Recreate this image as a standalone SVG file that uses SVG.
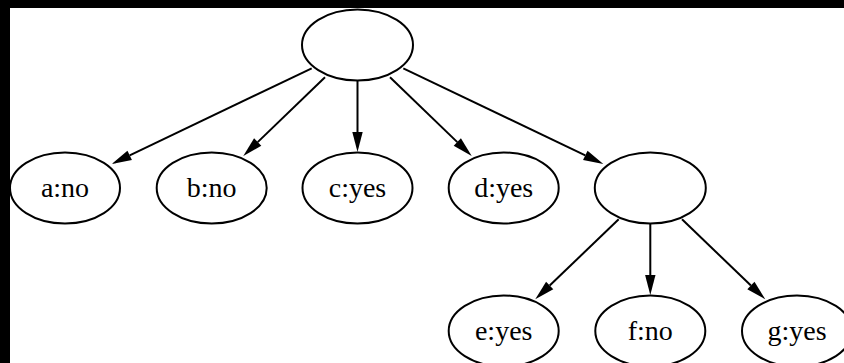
<svg xmlns="http://www.w3.org/2000/svg" width="844" height="363" viewBox="0 0 844 363">
<style>
.node ellipse{fill:none;stroke:#000;stroke-width:2}
.node text{font-family:"Liberation Serif","Times New Roman",serif;font-size:28px;fill:#000;text-anchor:middle}
.edges line{stroke:#000;stroke-width:2;marker-end:url(#arr)}
</style>
<defs>
<marker id="arr" markerUnits="userSpaceOnUse" orient="auto" markerWidth="22" markerHeight="14" viewBox="0 -7 22 14" refX="0" refY="0" overflow="visible">
<path d="M0,-5.2 L20,0 L0,5.2 Z" fill="#000"/>
</marker>
</defs>
<rect x="0" y="0" width="844" height="363" fill="#000"/>
<rect x="10" y="8" width="834" height="355" fill="#fff"/>
<g class="edges" id="edges">
<line x1="311.7" y1="68.3" x2="129.7" y2="155.4"/>
<line x1="325" y1="77.3" x2="257.7" y2="142.1"/>
<line x1="357.5" y1="81" x2="357.5" y2="132"/>
<line x1="390" y1="77.3" x2="457.3" y2="142.1"/>
<line x1="403.3" y1="68.3" x2="585.3" y2="155.4"/>
<line x1="618.7" y1="219.3" x2="549.7" y2="285.5"/>
<line x1="650.3" y1="224" x2="650.3" y2="275"/>
<line x1="682" y1="219.3" x2="750.9" y2="285.5"/>
</g>
<g class="node" id="root"><ellipse cx="357.5" cy="45" rx="55.5" ry="35.5"/></g>
<g class="node" id="a"><ellipse cx="65" cy="188" rx="55" ry="35.5"/><text x="65" y="196.5">a:no</text></g>
<g class="node" id="b"><ellipse cx="211.7" cy="188" rx="55" ry="35.5"/><text x="211.7" y="196.5">b:no</text></g>
<g class="node" id="c"><ellipse cx="357.5" cy="188" rx="55" ry="35.5"/><text x="357.5" y="196.5">c:yes</text></g>
<g class="node" id="d"><ellipse cx="503.7" cy="188" rx="55" ry="35.5"/><text x="503.7" y="196.5">d:yes</text></g>
<g class="node" id="n"><ellipse cx="650.3" cy="188" rx="55.5" ry="35.5"/></g>
<g class="node" id="e"><ellipse cx="503.7" cy="331" rx="55" ry="35.5"/><text x="503.7" y="339.5">e:yes</text></g>
<g class="node" id="f"><ellipse cx="650.3" cy="331" rx="55" ry="35.5"/><text x="650.3" y="339.5">f:no</text></g>
<g class="node" id="g"><ellipse cx="797" cy="331" rx="55" ry="35.5"/><text x="797" y="339.5">g:yes</text></g>
</svg>
